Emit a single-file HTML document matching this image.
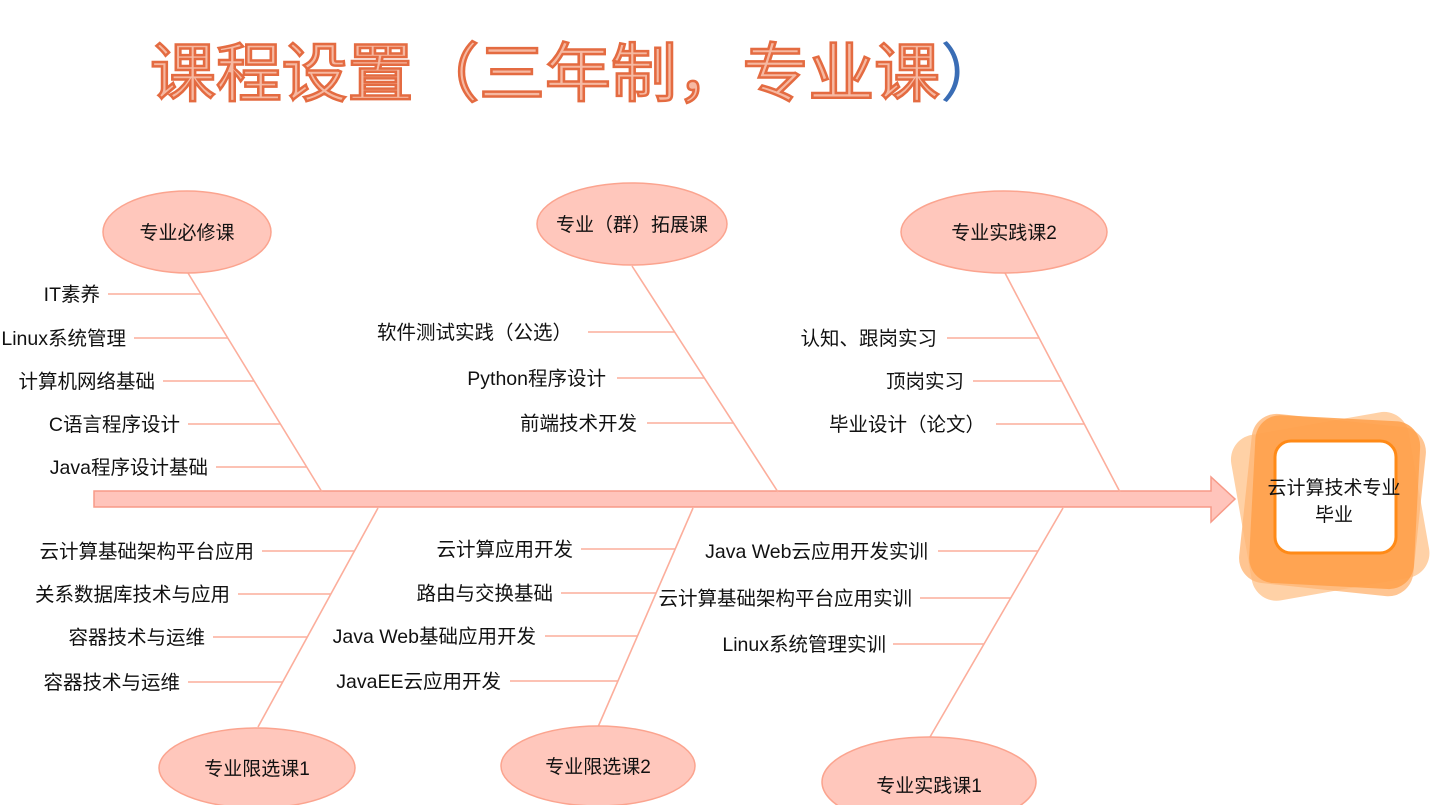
<!DOCTYPE html>
<html><head><meta charset="utf-8"><style>
html,body{margin:0;padding:0;background:#fff;}
svg{display:block;}
text{font-family:"Liberation Sans","Noto Sans CJK SC",sans-serif;}
</style></head><body>
<svg width="1431" height="805" viewBox="0 0 1431 805" xmlns="http://www.w3.org/2000/svg">
<!-- title -->
<text x="150" y="96" font-size="64" fill="#f6b9a2" stroke="#e46b41" stroke-width="2.5" textLength="790" lengthAdjust="spacingAndGlyphs" style="font-family:'Noto Sans CJK SC',sans-serif">课程设置（三年制，专业课</text>
<text x="940" y="96" font-size="64" fill="#3a6db5" style="font-family:'Noto Sans CJK SC',sans-serif">）</text>

<!-- right target -->
<g>
<rect x="1240" y="422" width="180" height="168" rx="25" fill="#ffc690" opacity="0.8" transform="rotate(-10 1332 505)"/>
<rect x="1245" y="420" width="175" height="170" rx="25" fill="#ffb777" opacity="0.8" transform="rotate(6 1332 505)"/>
<rect x="1252" y="418" width="165" height="168" rx="25" fill="#ffa04a" opacity="0.85" transform="rotate(3 1332 505)"/>
<rect x="1275" y="441" width="121" height="112" rx="16" fill="#fff" stroke="#ff8a17" stroke-width="3"/>
<text x="1334" y="494" font-size="19" text-anchor="middle" fill="#111">云计算技术专业</text>
<text x="1334" y="521" font-size="19" text-anchor="middle" fill="#111">毕业</text>
</g>

<!-- main arrow -->
<polygon points="94,491 1211,491 1211,477 1235,499 1211,522 1211,507 94,507" fill="#ffc4bb" stroke="#f79a88" stroke-width="1.5"/>

<g stroke="#fcae9c" stroke-width="1.6" fill="none">
<line x1="188" y1="273" x2="322" y2="492"/>
<line x1="632" y1="266" x2="778" y2="492"/>
<line x1="1005" y1="273" x2="1120" y2="492"/>
<line x1="378" y1="508" x2="258" y2="727"/>
<line x1="693" y1="508" x2="598" y2="727"/>
<line x1="1063" y1="508" x2="930" y2="737"/>
<line x1="108" y1="294" x2="201" y2="294"/>
<line x1="134" y1="338" x2="228" y2="338"/>
<line x1="163" y1="381" x2="254" y2="381"/>
<line x1="188" y1="424" x2="280" y2="424"/>
<line x1="216" y1="467" x2="307" y2="467"/>
<line x1="588" y1="332" x2="675" y2="332"/>
<line x1="617" y1="378" x2="704" y2="378"/>
<line x1="647" y1="423" x2="733" y2="423"/>
<line x1="947" y1="338" x2="1039" y2="338"/>
<line x1="973" y1="381" x2="1062" y2="381"/>
<line x1="996" y1="424" x2="1084" y2="424"/>
<line x1="262" y1="551" x2="354" y2="551"/>
<line x1="238" y1="594" x2="331" y2="594"/>
<line x1="213" y1="637" x2="307" y2="637"/>
<line x1="188" y1="682" x2="283" y2="682"/>
<line x1="581" y1="549" x2="675" y2="549"/>
<line x1="561" y1="593" x2="656" y2="593"/>
<line x1="545" y1="636" x2="637" y2="636"/>
<line x1="510" y1="681" x2="618" y2="681"/>
<line x1="938" y1="551" x2="1038" y2="551"/>
<line x1="920" y1="598" x2="1011" y2="598"/>
<line x1="893" y1="644" x2="984" y2="644"/>
</g>

<g fill="#ffc7bc" stroke="#fba48f" stroke-width="1.5">
<ellipse cx="187" cy="232" rx="84" ry="41"/>
<ellipse cx="632" cy="224" rx="95" ry="41"/>
<ellipse cx="1004" cy="232" rx="103" ry="41"/>
<ellipse cx="257" cy="768" rx="98" ry="40"/>
<ellipse cx="598" cy="766" rx="97" ry="40"/>
<ellipse cx="929" cy="782" rx="107" ry="45"/>
</g>
<g font-size="19" fill="#111" text-anchor="middle">
<text x="187" y="239">专业必修课</text>
<text x="632" y="231">专业（群）拓展课</text>
<text x="1004" y="239">专业实践课2</text>
<text x="257" y="775">专业限选课1</text>
<text x="598" y="773">专业限选课2</text>
<text x="929" y="792">专业实践课1</text>
</g>

<g font-size="19.5" fill="#111" text-anchor="end">
<text x="100" y="301">IT素养</text>
<text x="126" y="345">Linux系统管理</text>
<text x="155" y="388">计算机网络基础</text>
<text x="180" y="431">C语言程序设计</text>
<text x="208" y="474">Java程序设计基础</text>
<text x="572" y="339">软件测试实践（公选）</text>
<text x="606" y="385">Python程序设计</text>
<text x="637" y="430">前端技术开发</text>
<text x="937" y="345">认知、跟岗实习</text>
<text x="964" y="388">顶岗实习</text>
<text x="985" y="431">毕业设计（论文）</text>
<text x="254" y="558">云计算基础架构平台应用</text>
<text x="230" y="601">关系数据库技术与应用</text>
<text x="205" y="644">容器技术与运维</text>
<text x="180" y="689">容器技术与运维</text>
<text x="573" y="556">云计算应用开发</text>
<text x="553" y="600">路由与交换基础</text>
<text x="536" y="643">Java Web基础应用开发</text>
<text x="501" y="688">JavaEE云应用开发</text>
<text x="928" y="558">Java Web云应用开发实训</text>
<text x="912" y="605">云计算基础架构平台应用实训</text>
<text x="886" y="651">Linux系统管理实训</text>
</g>
</svg>
</body></html>
